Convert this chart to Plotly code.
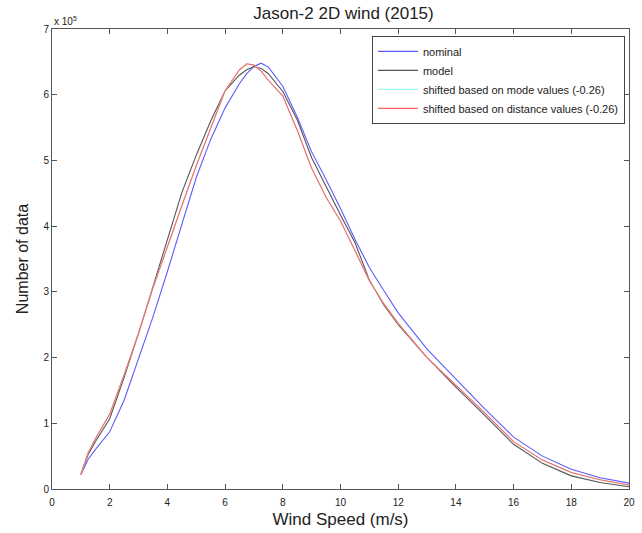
import plotly.graph_objects as go

# Wind speed grid (m/s)
wind_speed = [1.0, 1.25, 1.5, 1.75, 2.0, 2.5, 3.0, 3.5, 4.0, 4.5, 5.0, 5.5, 6.0, 6.5,
              6.75, 7.0, 7.25, 7.5, 8.0, 8.5, 9.0, 9.5, 10.0, 10.5, 11.0, 11.5, 12.0,
              13.0, 14.0, 15.0, 16.0, 17.0, 18.0, 19.0, 20.0]

# Number of data, in units of 1e5
nominal = [0.22, 0.45, 0.60, 0.73, 0.87, 1.35, 1.97, 2.62, 3.31, 4.02, 4.74, 5.32, 5.80, 6.17,
           6.32, 6.43, 6.48, 6.42, 6.13, 5.66, 5.13, 4.71, 4.27, 3.80, 3.37, 3.02, 2.68,
           2.13, 1.68, 1.22, 0.79, 0.50, 0.30, 0.17, 0.09]

model = [0.22, 0.52, 0.72, 0.90, 1.07, 1.70, 2.37, 3.08, 3.79, 4.51, 5.08, 5.60, 6.06, 6.30,
         6.38, 6.43, 6.40, 6.32, 6.05, 5.62, 5.04, 4.60, 4.17, 3.75, 3.18, 2.80, 2.50,
         2.00, 1.55, 1.12, 0.68, 0.39, 0.20, 0.10, 0.035]

shifted_mode = [0.22, 0.55, 0.76, 0.94, 1.14, 1.74, 2.37, 3.06, 3.70, 4.31, 4.92, 5.48, 6.06, 6.38,
                6.47, 6.45, 6.36, 6.22, 5.98, 5.46, 4.88, 4.44, 4.08, 3.63, 3.17, 2.82, 2.52,
                2.00, 1.58, 1.16, 0.72, 0.44, 0.25, 0.14, 0.06]

shifted_distance = [0.22, 0.55, 0.76, 0.94, 1.14, 1.74, 2.37, 3.06, 3.70, 4.31, 4.92, 5.48, 6.06, 6.38,
                    6.47, 6.45, 6.36, 6.22, 5.98, 5.46, 4.88, 4.44, 4.08, 3.63, 3.17, 2.82, 2.52,
                    2.00, 1.58, 1.16, 0.72, 0.44, 0.25, 0.14, 0.06]

x_ticks = [0, 2, 4, 6, 8, 10, 12, 14, 16, 18, 20]
y_ticks = [0, 1, 2, 3, 4, 5, 6, 7]

FONT = "Arial, Liberation Sans, sans-serif"

fig = go.Figure()
fig.add_trace(go.Scatter(x=wind_speed, y=nominal, mode="lines", name="nominal",
                         line=dict(color="#5c5cff", width=1.1)))
fig.add_trace(go.Scatter(x=wind_speed, y=model, mode="lines", name="model",
                         line=dict(color="#555555", width=1.1)))
fig.add_trace(go.Scatter(x=wind_speed, y=shifted_mode, mode="lines",
                         name="shifted based on mode values (-0.26)",
                         line=dict(color="#9ff5f5", width=1.1)))
fig.add_trace(go.Scatter(x=wind_speed, y=shifted_distance, mode="lines",
                         name="shifted based on distance values (-0.26)",
                         line=dict(color="#ff6464", width=1.1)))

axis_common = dict(
    showgrid=False, zeroline=False, showline=True, linecolor="#555555", linewidth=1,
    mirror="ticks", ticks="inside", ticklen=5, tickcolor="#555555",
    tickfont=dict(family=FONT, size=10, color="#222222"),
)

fig.update_xaxes(range=[0, 20], tickvals=x_ticks, ticktext=[str(v) for v in x_ticks],
                 title=dict(text="Wind Speed (m/s)", font=dict(family=FONT, size=17, color="#222222"),
                            standoff=6),
                 ticklabelstandoff=4,
                 **axis_common)
fig.update_yaxes(range=[0, 7], tickvals=y_ticks, ticktext=[str(v) for v in y_ticks],
                 title=dict(text="Number of data", font=dict(family=FONT, size=16, color="#222222"),
                            standoff=10),
                 **axis_common)

fig.update_layout(
    width=642, height=533,
    margin=dict(l=52, r=7, t=29, b=44),
    paper_bgcolor="white", plot_bgcolor="white",
    title=dict(text="Jason-2 2D wind (2015)", x=0.535, xanchor="center", y=0.975, yanchor="middle",
               font=dict(family=FONT, size=17, color="#222222")),
    showlegend=True,
    legend=dict(x=0.993, xanchor="right", y=0.985, yanchor="top",
                bgcolor="white", bordercolor="#444444", borderwidth=1,
                font=dict(family=FONT, size=11, color="#222222"),
                tracegroupgap=0, itemwidth=40),
    annotations=[dict(text="x 10<sup>5</sup>", xref="paper", yref="paper", x=0.0, y=1.0,
                      xanchor="left", yanchor="bottom", showarrow=False,
                      font=dict(family=FONT, size=10, color="#222222"))],
)

fig.write_html("out.html", config={"displayModeBar": False},
               post_script="document.body.style.margin='0px';")
